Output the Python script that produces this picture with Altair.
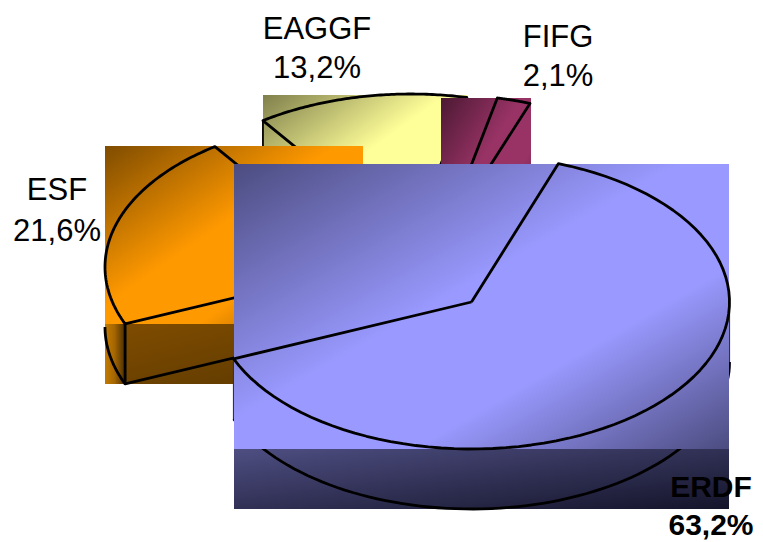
import altair as alt
import numpy as np
import pandas as pd

# values
funds = ["ERDF", "ESF", "EAGGF", "FIFG"]
shares = [63.2, 21.6, 13.2, 2.1]
share_labels = ["63,2%", "21,6%", "13,2%", "2,1%"]

# drawing set-up (pixel-like domain of the scales)
RX, RY, DEPTH = 258, 147, 60
START = 19.7
centres = {"ERDF": (471.5, 302), "ESF": (363, 267), "EAGGF": (411, 241), "FIFG": (441.5, 241.5)}
label_pos = {"ERDF": (711, 497, 535), "ESF": (57, 200, 241), "EAGGF": (317, 39, 78), "FIFG": (558, 47, 86)}
shades = {
    "ERDF": ("#4c4c80", "#9999ff"),
    "ESF": ("#7f4c00", "#ff9900"),
    "EAGGF": ("#7f7f4c", "#ffff99"),
    "FIFG": ("#4c1933", "#993366"),
}

xs = alt.Scale(domain=[8, 755], range=[0, 747])
ys = alt.Scale(domain=[542, 8], range=[534, 0])

cum = np.cumsum([0] + shares)
total = 100.0
angles = {f: (START + cum[i] * 360 / total, START + cum[i + 1] * 360 / total) for i, f in enumerate(funds)}


def pt(fund, a, dy=0):
    cx, cy = centres[fund]
    t = np.radians(a)
    return cx + RX * np.sin(t), cy - RY * np.cos(t) + dy


def line(points, width=2.8, color="black"):
    df = pd.DataFrame(points, columns=["x", "y"])
    df["i"] = range(len(df))
    return alt.Chart(df).mark_line(color=color, strokeWidth=width, strokeJoin="round").encode(
        x=alt.X("x:Q", scale=xs, axis=None),
        y=alt.Y("y:Q", scale=ys, axis=None),
        order="i:Q",
    )


def arc(fund, a0, a1, dy=0):
    return [pt(fund, a, dy) for a in np.linspace(a0, a1, 80)]


def rect(x0, x1, y0, y1, stops, x2g=1, y2g=1):
    df = pd.DataFrame({"x": [x0], "x2": [x1], "y": [y0], "y2": [y1]})
    grad = {
        "gradient": "linear",
        "x1": 0, "y1": 0, "x2": x2g, "y2": y2g,
        "stops": [{"offset": o, "color": c} for o, c in stops],
    }
    return alt.Chart(df).mark_rect(color=grad).encode(
        x=alt.X("x:Q", scale=xs, axis=None),
        x2="x2:Q",
        y=alt.Y("y:Q", scale=ys, axis=None),
        y2="y2:Q",
    )


def top_stops(f):
    d, l = shades[f]
    return [(0, d), (0.45, l), (0.68, l), (1, d)]


def outline(f):
    a0, a1 = angles[f]
    return line([centres[f]] + arc(f, a0, a1) + [centres[f]])


layers = []

# EAGGF
a0, a1 = angles["EAGGF"]
layers.append(rect(263, 467, 95, 241, top_stops("EAGGF")))
layers.append(outline("EAGGF"))
layers.append(line([pt("EAGGF", a0), pt("EAGGF", a0, DEPTH)], width=1.8))

# FIFG
layers.append(rect(441, 531, 98, 241, top_stops("FIFG")))
layers.append(outline("FIFG"))

# ESF
a0, a1 = angles["ESF"]
layers.append(rect(105, 125, 324, 384, [(0, "#c27a00"), (0.45, "#a86800"), (1, "#4a2e00")], 1, 0))
layers.append(rect(125, 363, 324, 384, [(0, "#7f4c00"), (1, "#5a3800")]))
layers.append(rect(105, 363, 146, 324, top_stops("ESF")))
layers.append(outline("ESF"))
layers.append(line(arc("ESF", a0, 270, DEPTH)))
layers.append(line([pt("ESF", a0), pt("ESF", a0, DEPTH),
                    (centres["ESF"][0], centres["ESF"][1] + DEPTH)]))

# ERDF
a0, a1 = angles["ERDF"]
layers.append(line([(233.5, 358), (233.5, 419)], width=1.2, color="#333333"))
layers.append(line([(729.5, 301), (729.5, 373)], width=1.2, color="#333333"))
layers.append(rect(234, 729, 449, 509, [(0, "#4e4e82"), (1, "#14142a")]))
layers.append(line(arc("ERDF", 90, a1, DEPTH)))
layers.append(rect(234, 729, 164, 449, top_stops("ERDF")))
layers.append(outline("ERDF"))

# labels
rows = []
for f, s in zip(funds, share_labels):
    x, y1, y2 = label_pos[f]
    rows.append({"x": x, "y": y1, "t": f, "b": f == "ERDF"})
    rows.append({"x": x, "y": y2, "t": s, "b": f == "ERDF"})
lab = pd.DataFrame(rows)
for bold, weight, size in ((False, "normal", 31), (True, "bold", 30)):
    layers.append(
        alt.Chart(lab[lab.b == bold]).mark_text(
            font="Liberation Sans", fontSize=size, fontWeight=weight,
            color="black", align="center", baseline="alphabetic",
        ).encode(
            x=alt.X("x:Q", scale=xs, axis=None),
            y=alt.Y("y:Q", scale=ys, axis=None),
            text="t:N",
        )
    )

chart = alt.layer(*layers).properties(
    width=747, height=534, padding=0, autosize=alt.AutoSizeParams(type="none"),
    background="white",
).configure_view(stroke=None)

chart.save("out.html", embed_options={"renderer": "svg", "actions": False})
